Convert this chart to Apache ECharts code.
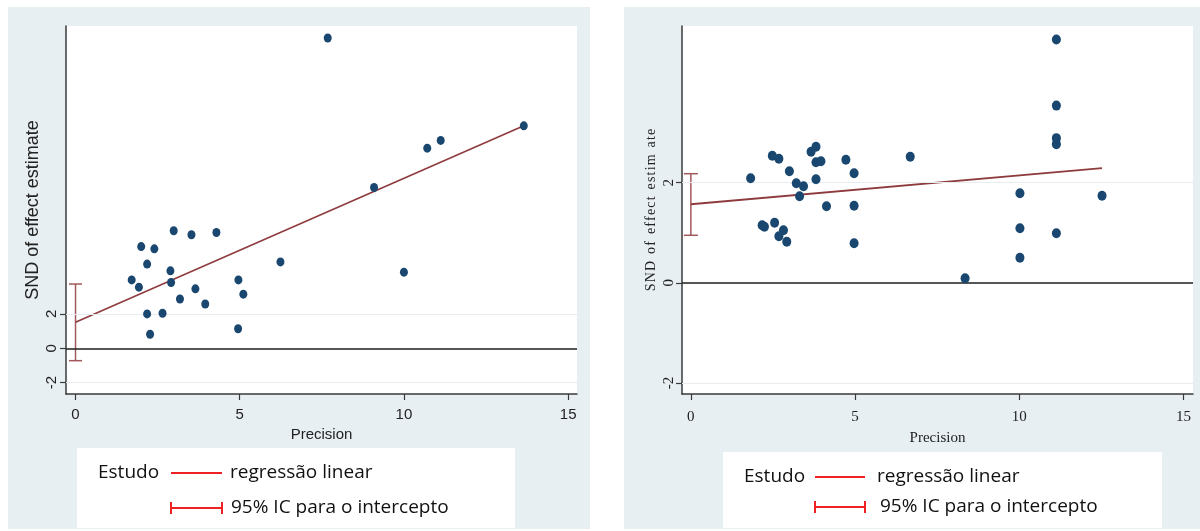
<!DOCTYPE html>
<html>
<head>
<meta charset="utf-8">
<script src="https://cdn.jsdelivr.net/npm/echarts@6/dist/echarts.min.js"></script>
<style>
html,body{margin:0;padding:0;background:#fff;}
#chart{width:1200px;height:531px;}
</style>
</head>
<body>
<div id="chart"></div>
<script>
// ---------- DATA ----------
const leftPrecision = [7.68, 13.65, 11.12, 10.71, 9.09, 2.99, 3.53, 4.29, 2.00, 2.40, 2.18, 2.89, 6.24, 10.00, 1.71, 1.93, 2.91, 3.65, 4.96, 3.18, 3.95, 5.11, 2.18, 2.65, 2.27, 4.95];
const leftSND       = [18.06, 12.95, 12.10, 11.65, 9.36, 6.84, 6.61, 6.74, 5.92, 5.79, 4.90, 4.51, 5.03, 4.43, 3.98, 3.56, 3.83, 3.46, 3.98, 2.87, 2.58, 3.15, 2.00, 2.04, 0.82, 1.14];
const leftRegX = [0, 13.65];
const leftRegY = [1.52, 12.95];
const leftCI = [0, -0.72, 3.74];   // x, lower, upper

const rightPrecision = [11.13, 11.13, 11.13, 11.13, 11.13, 12.52, 10.02, 10.02, 10.02, 8.35, 6.68, 1.82, 2.48, 2.68, 3.00, 3.21, 3.43, 3.31, 3.66, 3.81, 3.81, 3.96, 3.81, 4.13, 4.72, 4.97, 4.97, 4.97, 2.17, 2.24, 2.55, 2.82, 2.68, 2.92];
const rightSND       = [4.86, 3.54, 2.89, 2.77, 0.99, 1.74, 1.79, 1.09, 0.50, 0.09, 2.52, 2.09, 2.54, 2.48, 2.23, 1.99, 1.93, 1.73, 2.62, 2.72, 2.41, 2.43, 2.07, 1.53, 2.46, 2.19, 1.54, 0.79, 1.15, 1.12, 1.20, 1.05, 0.93, 0.82];
const rightRegX = [0, 12.52];
const rightRegY = [1.57, 2.29];
const rightCI = [0, 0.95, 2.18];

const xTicks = [0, 5, 10, 15];
const yTicks = [-2, 0, 2];
const refLines = [-2, 2];
const zeroLine = 0;

const xTitle = 'Precision';
const yTitleLeft = 'SND of effect estimate';
const yTitleRight = 'S\u200AN\u200AD  o\u200Af  e\u200Af\u200Af\u200Ae\u200Ac\u200At  e\u200As\u200At\u200Ai\u200Am  a\u200At\u200Ae';
const legendStudy = 'Estudo';
const legendReg = 'regressão linear';
const legendCI = '95% IC para o intercepto';

// ---------- STYLES ----------
const PANEL = '#e8eff2';
const DOT = '#1a476f';
const REG = '#8e3b3e';
const CIC = '#a2585b';
const AXIS = '#3a3a3a';
const SANS = 'Liberation Sans, Arial, sans-serif';
const SERIF = 'Liberation Serif, Times New Roman, serif';
const LEG = 'Open Sans, Noto Sans, sans-serif';

const zip = (a, b) => a.map((v, i) => [v, b[i]]);

function xAxisCfg(gi, min, max, font, margin, gap) {
  return {
    type: 'value', gridIndex: gi, min: min, max: max,
    axisLine: { show: true, onZero: false, lineStyle: { color: AXIS, width: 1.5 } },
    axisTick: { show: true, inside: false, length: 6, customValues: xTicks, lineStyle: { color: AXIS, width: 1.2 } },
    axisLabel: { show: true, customValues: xTicks, fontFamily: font, fontSize: 15, color: '#222', margin: margin },
    splitLine: { show: false },
    name: xTitle, nameLocation: 'middle', nameGap: gap,
    nameTextStyle: { fontFamily: font, fontSize: 15, color: '#222' }
  };
}
function yAxisCfg(gi, min, max, font, name, nameSize, gap, margin) {
  return {
    type: 'value', gridIndex: gi, min: min, max: max,
    axisLine: { show: true, onZero: false, lineStyle: { color: AXIS, width: 1.5 } },
    axisTick: { show: true, inside: false, length: 6, customValues: yTicks, lineStyle: { color: AXIS, width: 1.2 } },
    axisLabel: { show: true, customValues: yTicks, rotate: 90, fontFamily: font, fontSize: 15, color: '#222', margin: margin },
    splitLine: { show: false },
    name: name, nameLocation: 'middle', nameGap: gap,
    nameTextStyle: { fontFamily: font, fontSize: nameSize, color: '#222' }
  };
}

function ciRender(capHalf) {
  return function (params, api) {
    const x = api.value(0);
    const lo = api.coord([x, api.value(1)]);
    const hi = api.coord([x, api.value(2)]);
    const st = { stroke: CIC, lineWidth: 1.5 };
    return {
      type: 'group',
      children: [
        { type: 'line', shape: { x1: lo[0], y1: lo[1], x2: hi[0], y2: hi[1] }, style: st },
        { type: 'line', shape: { x1: lo[0] - capHalf, y1: lo[1], x2: lo[0] + capHalf, y2: lo[1] }, style: st },
        { type: 'line', shape: { x1: hi[0] - capHalf, y1: hi[1], x2: hi[0] + capHalf, y2: hi[1] }, style: st }
      ]
    };
  };
}

function markLines() {
  return {
    silent: true, symbol: 'none', animation: false,
    label: { show: false },
    data: [
      { yAxis: zeroLine, lineStyle: { color: '#1e1e1e', width: 1.6, type: 'solid' } }
    ].concat(refLines.map(v => ({ yAxis: v, lineStyle: { color: '#e6ecef', width: 1, type: 'solid' } })))
  };
}

function legendGraphics(box, rowY, textX, symX1, symX2, textX2) {
  const red = { stroke: '#ee2222', lineWidth: 2 };
  const ts = (t, x, y) => ({ type: 'text', z: 11, style: { text: t, x: x, y: y, fontFamily: LEG, fontSize: 19, fill: '#111', textVerticalAlign: 'middle' } });
  return [
    { type: 'rect', z: 10, shape: box, style: { fill: '#ffffff' } },
    ts(legendStudy, textX, rowY[0]),
    { type: 'line', z: 11, shape: { x1: symX1, y1: rowY[0], x2: symX2, y2: rowY[0] }, style: red },
    ts(legendReg, textX2[0], rowY[0]),
    { type: 'line', z: 11, shape: { x1: symX1, y1: rowY[1], x2: symX2, y2: rowY[1] }, style: red },
    { type: 'line', z: 11, shape: { x1: symX1, y1: rowY[1] - 6, x2: symX1, y2: rowY[1] + 6 }, style: red },
    { type: 'line', z: 11, shape: { x1: symX2, y1: rowY[1] - 6, x2: symX2, y2: rowY[1] + 6 }, style: red },
    ts(legendCI, textX2[1], rowY[1])
  ];
}

const chart = echarts.init(document.getElementById('chart'), null, { renderer: 'canvas' });
const option = {
  animation: false,
  backgroundColor: '#ffffff',
  graphic: {
    elements: [
      { type: 'rect', z: -100, shape: { x: 8, y: 7, width: 582, height: 522 }, style: { fill: PANEL } },
      { type: 'rect', z: -100, shape: { x: 624, y: 7, width: 576, height: 522 }, style: { fill: PANEL } }
    ].concat(
      legendGraphics({ x: 77, y: 448, width: 438, height: 80 }, [473, 508], 98, 171, 222, [230, 231]),
      legendGraphics({ x: 723, y: 452, width: 439, height: 76 }, [477, 507], 744, 815, 865, [877, 880])
    )
  },
  grid: [
    { left: 66, top: 26, width: 511, height: 368, show: true, backgroundColor: '#ffffff', borderWidth: 0, outerBoundsMode: 'none', containLabel: false },
    { left: 682, top: 26, width: 511, height: 368, show: true, backgroundColor: '#ffffff', borderWidth: 0, outerBoundsMode: 'none', containLabel: false }
  ],
  xAxis: [
    xAxisCfg(0, -0.29, 15.27, SANS, 13, 33),
    xAxisCfg(1, -0.27, 15.29, SERIF, 16, 37)
  ],
  yAxis: [
    yAxisCfg(0, -2.66, 18.76, SANS, yTitleLeft, 18, 24, 7),
    yAxisCfg(1, -2.22, 5.13, SERIF, yTitleRight, 14, 24, 5)
  ],
  series: [
    { type: 'scatter', xAxisIndex: 0, yAxisIndex: 0, data: zip(leftPrecision, leftSND), symbolSize: [8, 9], itemStyle: { color: DOT, opacity: 1 }, z: 5, markLine: markLines() },
    { type: 'line', xAxisIndex: 0, yAxisIndex: 0, data: zip(leftRegX, leftRegY), showSymbol: false, symbol: 'none', lineStyle: { color: REG, width: 1.6 }, z: 4 },
    { type: 'custom', xAxisIndex: 0, yAxisIndex: 0, data: [leftCI], renderItem: ciRender(6.5), z: 4 },
    { type: 'scatter', xAxisIndex: 1, yAxisIndex: 1, data: zip(rightPrecision, rightSND), symbolSize: [9, 10], itemStyle: { color: DOT, opacity: 1 }, z: 5, markLine: markLines() },
    { type: 'line', xAxisIndex: 1, yAxisIndex: 1, data: zip(rightRegX, rightRegY), showSymbol: false, symbol: 'none', lineStyle: { color: REG, width: 1.8 }, z: 4 },
    { type: 'custom', xAxisIndex: 1, yAxisIndex: 1, data: [rightCI], renderItem: ciRender(7), z: 4 }
  ]
};
chart.setOption(option);
</script>
</body>
</html>
